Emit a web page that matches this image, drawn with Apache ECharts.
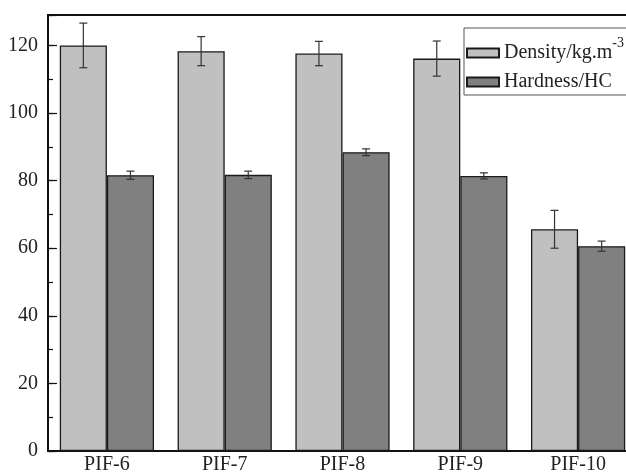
<!DOCTYPE html>
<html>
<head>
<meta charset="utf-8">
<script src="https://cdn.jsdelivr.net/npm/echarts@6/dist/echarts.min.js"></script>
<style>html,body{margin:0;padding:0;background:#fff}#c{width:626px;height:476px}</style>
</head>
<body>
<div id="c"></div>
<script>
var categories = ['PIF-6', 'PIF-7', 'PIF-8', 'PIF-9', 'PIF-10'];
var density = [120.0, 118.3, 117.6, 116.1, 65.6];
var densityErr = [6.6, 4.3, 3.6, 5.2, 5.6];
var hardness = [81.6, 81.7, 88.4, 81.4, 60.6];
var hardnessErr = [1.2, 1.1, 1.0, 0.9, 1.5];
var yTicks = [0, 20, 40, 60, 80, 100, 120];

var FONT = 'Liberation Serif';
var chart = echarts.init(document.getElementById('c'), null, {renderer: 'canvas'});

function errData(vals, errs) {
  return vals.map(function (v, i) { return [i, v - errs[i], v + errs[i]]; });
}
function errRender(side) {
  return function (params, api) {
    var i = api.value(0);
    var lo = api.coord([i, api.value(1)]);
    var hi = api.coord([i, api.value(2)]);
    var band = api.size([1, 0])[0];
    var bw = band * 0.4;
    var x = lo[0] + side * bw / 2;
    var cap = 4;
    var st = {stroke: '#333', lineWidth: 1.2};
    return {
      type: 'group',
      children: [
        {type: 'line', shape: {x1: x, y1: lo[1], x2: x, y2: hi[1]}, style: st},
        {type: 'line', shape: {x1: x - cap, y1: lo[1], x2: x + cap, y2: lo[1]}, style: st},
        {type: 'line', shape: {x1: x - cap, y1: hi[1], x2: x + cap, y2: hi[1]}, style: st}
      ]
    };
  };
}

var option = {
  animation: false,
  backgroundColor: '#fff',
  textStyle: {fontFamily: FONT},
  grid: {
    left: 48, top: 15, right: -11, bottom: 25,
    outerBoundsMode: 'none', containLabel: false,
    show: true, borderColor: '#111', borderWidth: 2, backgroundColor: 'transparent'
  },
  legend: {
    left: 464, top: 28,
    orient: 'vertical',
    icon: 'rect',
    itemWidth: 32, itemHeight: 9, itemGap: 9,
    padding: [8, 24, 3, 2],
    borderColor: '#555', borderWidth: 1,
    data: ['Density', 'Hardness'],
    formatter: function (n) {
      return n === 'Density' ? '{a|Density/kg.m}{s|-3}' : '{a|Hardness/HC}';
    },
    textStyle: {
      fontFamily: FONT, color: '#222',
      rich: {
        a: {fontFamily: FONT, fontSize: 20, color: '#222', lineHeight: 34},
        s: {fontFamily: FONT, fontSize: 14, color: '#222', verticalAlign: 'top', lineHeight: 14}
      }
    }
  },
  xAxis: {
    type: 'category',
    data: categories,
    axisLine: {lineStyle: {color: '#111', width: 2}},
    axisTick: {inside: true, length: 4, lineStyle: {color: '#111', width: 1.2}},
    axisLabel: {fontFamily: FONT, fontSize: 20, color: '#222', margin: 4, interval: 0},
    splitLine: {show: false}
  },
  yAxis: [{
    type: 'value', min: 0, max: 129, interval: 20, position: 'left',
    axisLine: {show: true, lineStyle: {color: '#111', width: 2}},
    axisTick: {show: true, inside: true, length: 9, lineStyle: {color: '#111', width: 1.2}},
    axisLabel: {
      fontFamily: FONT, fontSize: 20, color: '#222', margin: 10,
      formatter: function (v) { return yTicks.indexOf(v) >= 0 ? String(v) : ''; }
    },
    splitLine: {show: false}
  }, {
    type: 'value', min: 0, max: 129, interval: 10, position: 'left',
    axisLine: {show: false},
    axisTick: {show: true, inside: true, length: 5, lineStyle: {color: '#111', width: 1.2}},
    axisLabel: {show: false},
    splitLine: {show: false}
  }],
  series: [{
    name: 'Density', type: 'bar', data: density,
    barGap: '0%', barCategoryGap: '20%',
    itemStyle: {color: '#c0c0c0', borderColor: '#1a1a1a', borderWidth: 1.3}
  }, {
    name: 'Hardness', type: 'bar', data: hardness,
    barGap: '0%', barCategoryGap: '20%',
    itemStyle: {color: '#808080', borderColor: '#1a1a1a', borderWidth: 1.3}
  }, {
    type: 'custom', name: 'dErr', renderItem: errRender(-1),
    data: errData(density, densityErr), encode: {x: 0, y: [1, 2]}, z: 5
  }, {
    type: 'custom', name: 'hErr', renderItem: errRender(1),
    data: errData(hardness, hardnessErr), encode: {x: 0, y: [1, 2]}, z: 5
  }]
};
chart.setOption(option);
</script>
</body>
</html>
